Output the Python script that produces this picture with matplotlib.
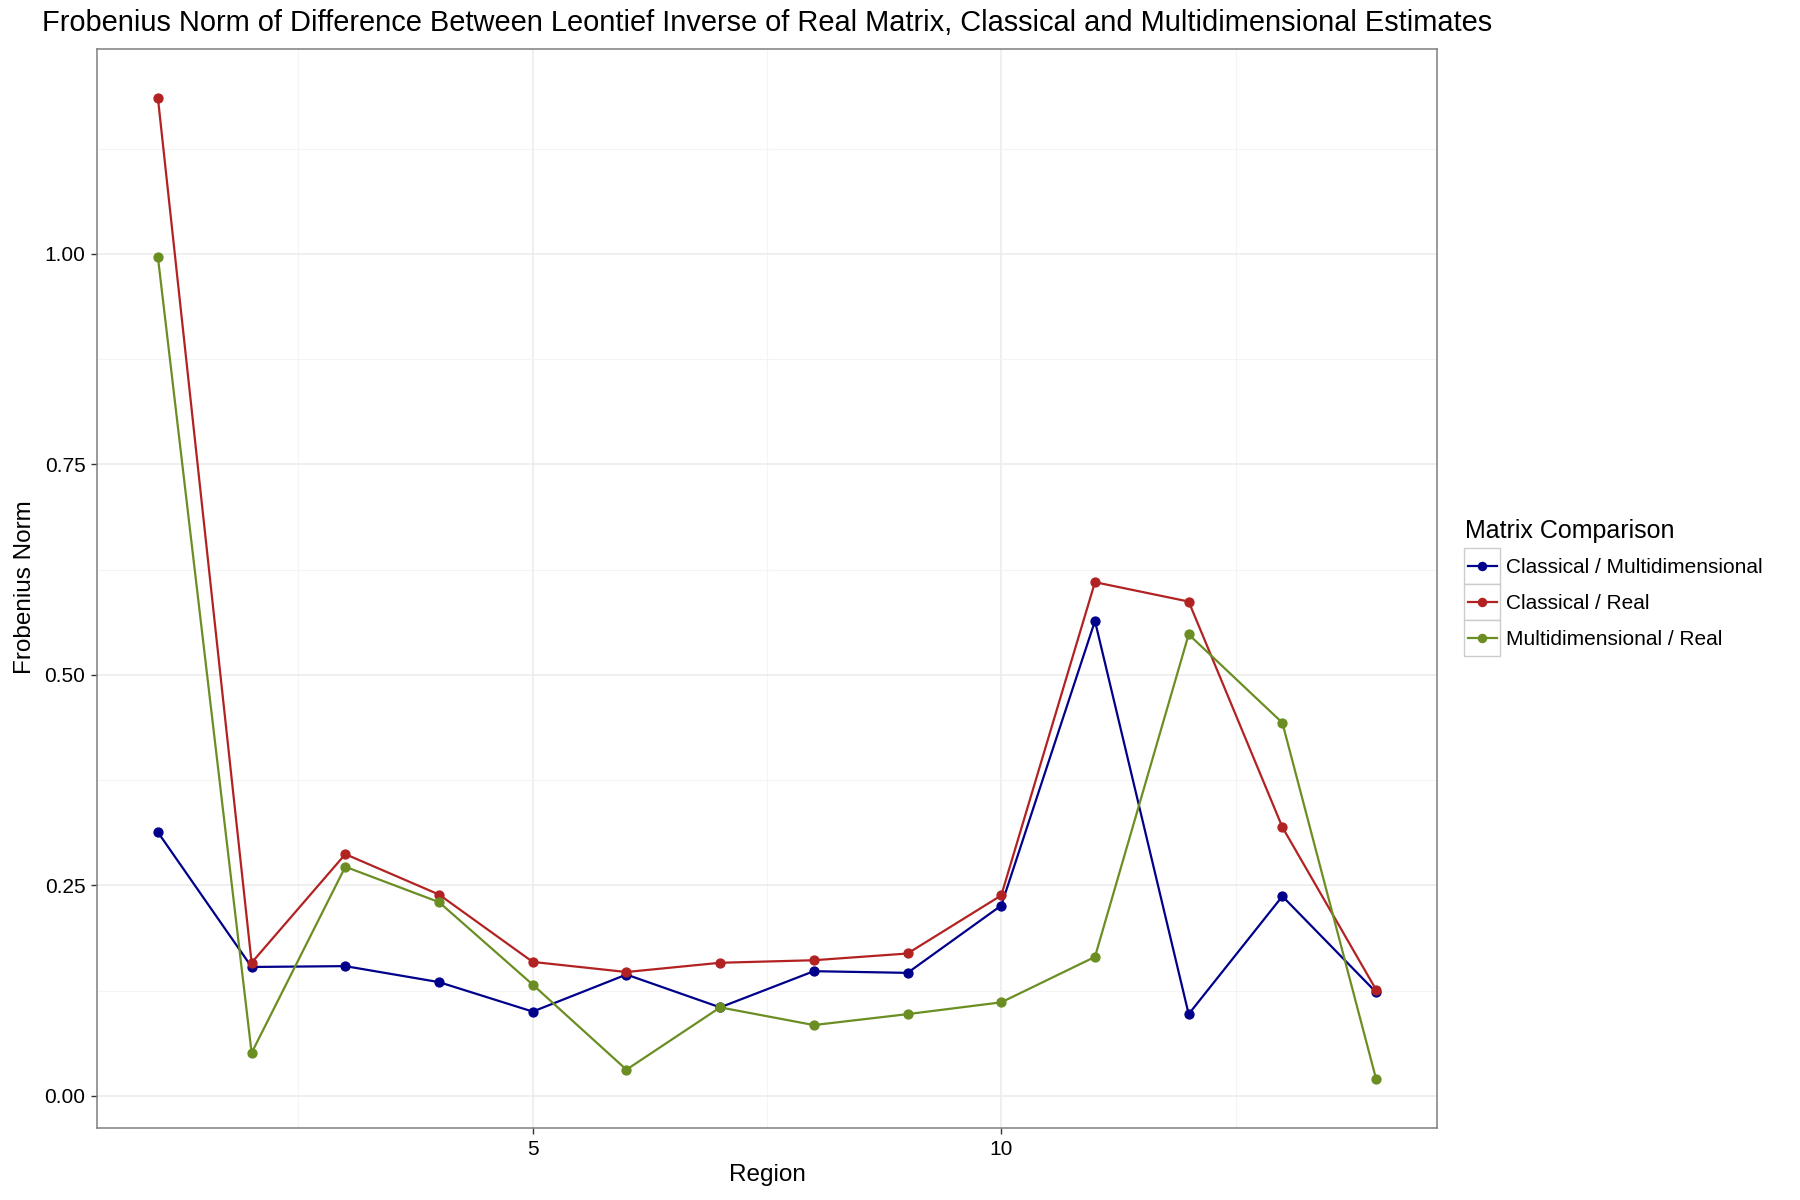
import matplotlib
matplotlib.use("Agg")
import matplotlib.pyplot as plt
from matplotlib.lines import Line2D
from matplotlib.patches import Rectangle
import numpy as np

plt.rcParams['font.family'] = ['Liberation Sans', 'DejaVu Sans']

regions = list(range(1, 15))
series_names = ["Classical / Multidimensional", "Classical / Real", "Multidimensional / Real"]
classical_multi = [0.313, 0.153, 0.154, 0.135, 0.100, 0.144, 0.105, 0.148, 0.146, 0.226, 0.564, 0.097, 0.237, 0.123]
classical_real = [1.185, 0.158, 0.287, 0.239, 0.159, 0.147, 0.158, 0.161, 0.169, 0.238, 0.610, 0.587, 0.319, 0.126]
multi_real = [0.996, 0.051, 0.272, 0.230, 0.132, 0.031, 0.105, 0.084, 0.097, 0.111, 0.165, 0.548, 0.443, 0.020]
colors = ["#00008B", "#B22222", "#6B8E23"]
y_ticks = [0.0, 0.25, 0.5, 0.75, 1.0]
y_tick_labels = ["0.00", "0.25", "0.50", "0.75", "1.00"]
x_ticks = [5, 10]
x_tick_labels = ["5", "10"]

W, H = 1800, 1200
fig = plt.figure(figsize=(18, 12), dpi=100)
L, R, T, B = 97, 1437, 49, 1128
ax = fig.add_axes([L / W, 1 - B / H, (R - L) / W, (B - T) / H])

for vals, c in zip([classical_multi, classical_real, multi_real], colors):
    ax.plot(regions, vals, color=c, lw=1.6, marker='o', ms=6.4, zorder=3)

ax.margins(x=0.05, y=0.05)
ax.set_yticks(y_ticks)
ax.set_yticklabels(y_tick_labels)
ax.set_xticks(x_ticks)
ax.set_xticklabels(x_tick_labels)
ax.set_xticks([2.5, 7.5, 12.5], minor=True)
ax.set_yticks([0.125, 0.375, 0.625, 0.875, 1.125], minor=True)
ax.tick_params(which='major', length=4.3, width=1.0, color='#333333', labelsize=15, pad=4)
ax.tick_params(which='minor', length=0)
ax.grid(which='major', color='#EBEBEB', lw=1.1, zorder=0)
ax.grid(which='minor', color='#F4F4F4', lw=0.8, zorder=0)
ax.set_axisbelow(True)
for s in ax.spines.values():
    s.set_color('#7F7F7F')
    s.set_linewidth(1.1)

fig.text(767 / W, 1 - 23 / H, "Frobenius Norm of Difference Between Leontief Inverse of Real Matrix, Classical and Multidimensional Estimates",
         ha='center', va='center', fontsize=20.9)
fig.text(767 / W, 1 - 1175 / H, "Region", ha='center', va='center', fontsize=17.5)
fig.text(25 / W, 1 - 587 / H, "Frobenius Norm", ha='center', va='center', rotation=90, fontsize=17.5)

# legend
fig.text(1465 / W, 1 - 538 / H, "Matrix Comparison", ha='left', va='baseline', fontsize=18)
row_centers = [565.7, 601.7, 637.7]
for name, c, yc in zip(series_names, colors, row_centers):
    fig.patches.append(Rectangle((1464 / W, 1 - (yc + 18) / H), 36 / W, 36 / H,
                                 transform=fig.transFigure, facecolor='white', edgecolor='#CCCCCC', lw=1.0))
    fig.lines.append(Line2D([1468 / W, 1497 / W], [1 - yc / H, 1 - yc / H], transform=fig.transFigure,
                            color=c, lw=1.6))
    fig.lines.append(Line2D([1482 / W], [1 - yc / H], transform=fig.transFigure, color=c,
                            marker='o', ms=5.8, lw=0))
    fig.text(1506 / W, 1 - (yc + 7) / H, name, ha='left', va='baseline', fontsize=15)

fig.savefig("out.png", dpi=100, facecolor='white')
